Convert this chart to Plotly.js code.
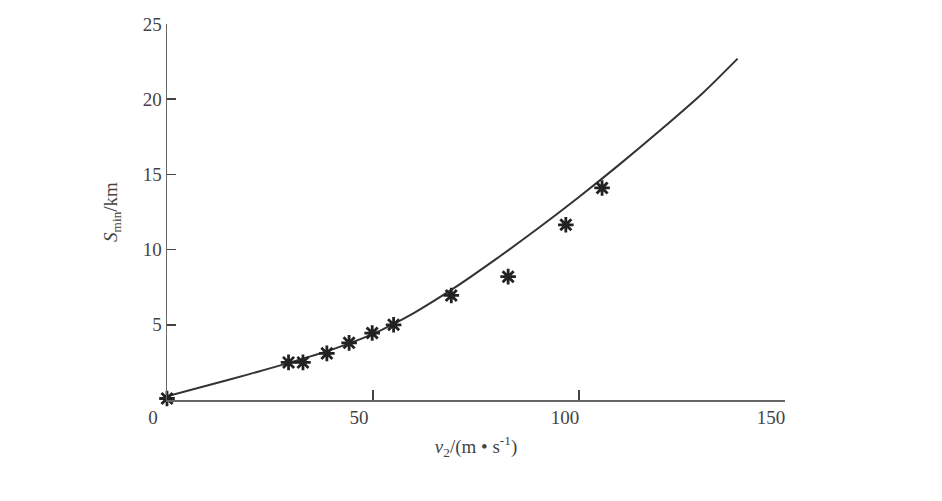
<!DOCTYPE html>
<html>
<head>
<meta charset="utf-8">
<script src="https://cdn.plot.ly/plotly-3.0.1.min.js"></script>
<style>html,body{margin:0;padding:0;background:#fff;}</style>
</head>
<body>
<div id="chart" style="width:942px;height:501px;"></div>
<script>
// Measured points (v2 in m/s, Smin in km)
const measuredV = [0, 29.5, 33, 38.8, 44.2, 49.8, 55.0, 69.0, 82.8, 96.8, 105.6];
const measuredS = [0.1, 2.5, 2.5, 3.1, 3.8, 4.45, 5.0, 6.95, 8.2, 11.65, 14.1];
// Theoretical curve
const curveV = [0, 10, 20, 30, 40, 50, 60, 70, 80, 90, 100, 110, 120, 130, 138.5];
const curveS = [0.25, 0.98, 1.72, 2.5, 3.35, 4.4, 5.8, 7.5, 9.4, 11.4, 13.5, 15.7, 18.0, 20.4, 22.7];
const xTicks = [0, 50, 100, 150];
const yTicks = [5, 10, 15, 20, 25];

const font = {family: 'Liberation Serif, Times New Roman, serif', size: 19, color: '#444'};

const traces = [
  {x: curveV, y: curveS, mode: 'lines', line: {color: '#333', width: 2, shape: 'spline', smoothing: 0.8},
   hoverinfo: 'none', showlegend: false, cliponaxis: false},
  {x: measuredV, y: measuredS, mode: 'markers',
   marker: {symbol: 'asterisk-open', size: 13, color: '#222', line: {color: '#222', width: 2.8}},
   showlegend: false, cliponaxis: false}
];

const layout = {
  width: 942, height: 501,
  margin: {l: 167, r: 157, t: 24, b: 101},
  paper_bgcolor: '#fff', plot_bgcolor: '#fff',
  font: font,
  xaxis: {
    range: [0, 150], tickvals: xTicks, ticktext: xTicks.map(String),
    ticks: 'inside', ticklen: 10, tickcolor: '#444', tickwidth: 1.5,
    showline: true, linecolor: '#666', linewidth: 1.5, layer: 'above traces',
    showgrid: false, zeroline: false, ticklabelshift: -14,
    tickfont: font,
    title: {text: '<i>v</i><sub>2</sub>/(m \u2022 s<sup>-1</sup>)', font: font, standoff: 12}
  },
  yaxis: {
    range: [0, 25], tickvals: yTicks, ticktext: yTicks.map(String), ticksuffix: '\u2002',
    ticks: 'inside', ticklen: 9, tickcolor: '#444', tickwidth: 1.5,
    showline: true, linecolor: '#666', linewidth: 1.5, layer: 'above traces',
    showgrid: false, zeroline: false,
    tickfont: font,
    title: {text: '<i>S</i><sub>min</sub>/km', font: font, standoff: 20}
  }
};

Plotly.newPlot('chart', traces, layout, {displayModeBar: false, staticPlot: true});
</script>
</body>
</html>
